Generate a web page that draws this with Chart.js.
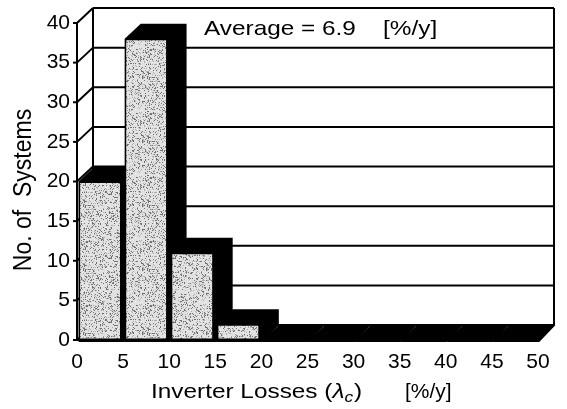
<!DOCTYPE html>
<html>
<head>
<meta charset="utf-8">
<script src="https://cdn.jsdelivr.net/npm/chart.js@4.4.1/dist/chart.umd.min.js"></script>
<style>
  html, body { margin: 0; padding: 0; background: #fff; }
  #wrap { width: 567px; height: 409px; }
</style>
</head>
<body>
<div id="wrap"><canvas id="chart" width="567" height="409"></canvas></div>
<script>
// histogram of inverter losses, bins of 5 %/y
const binLabels = ["0-5", "5-10", "10-15", "15-20", "20-25", "25-30", "30-35", "35-40", "40-45", "45-50"];
const systemCounts = [20, 38, 11, 2, 0, 0, 0, 0, 0, 0];
const lossTicks = [0, 5, 10, 15, 20, 25, 30, 35, 40, 45, 50];
const countTicks = [0, 5, 10, 15, 20, 25, 30, 35, 40];
const averageLabel = "Average = 6.9";
const unitLabel = "[%/y]";

const DEPTH_X = 16;
const DEPTH_Y = -15;
const STRETCH = 1.16; // the scanned text is wider than plain Arial
const FONT = "'Liberation Sans', Arial, sans-serif";

// grey stipple like the scanned bars
function stipple() {
  const c = document.createElement("canvas");
  c.width = 64; c.height = 64;
  const g = c.getContext("2d");
  g.fillStyle = "#e2e2e2";
  g.fillRect(0, 0, 64, 64);
  for (let y = 0; y < 64; y++) {
    for (let x = 0; x < 64; x++) {
      let h = Math.imul(x, 374761393) + Math.imul(y, 668265263);
      h = Math.imul(h ^ (h >>> 13), 1274126177);
      h = (h ^ (h >>> 16)) >>> 0;
      const r = h % 100;
      if (r < 14) { g.fillStyle = "#707070"; g.fillRect(x, y, 1, 1); }
      else if (r < 24) { g.fillStyle = "#acacac"; g.fillRect(x, y, 1, 1); }
    }
  }
  return g.createPattern(c, "repeat");
}

function line(ctx, x1, y1, x2, y2) {
  ctx.beginPath();
  ctx.moveTo(x1, y1);
  ctx.lineTo(x2, y2);
  ctx.stroke();
}

// text widened horizontally, left edge at x
function wideText(ctx, text, x, y, stretch = STRETCH) {
  ctx.save();
  ctx.translate(x, y);
  ctx.scale(stretch, 1);
  ctx.fillText(text, 0, 0);
  const w = ctx.measureText(text).width * stretch;
  ctx.restore();
  return w;
}

const boxPlugin = {
  id: "box3d",
  beforeDatasetsDraw(chart) {
    const { ctx, chartArea: a, scales } = chart;
    const ys = scales.y;
    ctx.save();
    ctx.strokeStyle = "#000";
    ctx.lineWidth = 2;
    countTicks.forEach((v) => {
      const py = ys.getPixelForValue(v);
      line(ctx, a.left + DEPTH_X, py + DEPTH_Y, a.right + DEPTH_X, py + DEPTH_Y);
      line(ctx, a.left, py, a.left + DEPTH_X, py + DEPTH_Y);
      line(ctx, a.left - 4, py, a.left, py);
    });
    line(ctx, a.left, a.top, a.left, a.bottom);
    line(ctx, a.left + DEPTH_X, a.top + DEPTH_Y, a.left + DEPTH_X, a.bottom + DEPTH_Y);
    line(ctx, a.right + DEPTH_X, a.top + DEPTH_Y, a.right + DEPTH_X, a.bottom + DEPTH_Y);
    line(ctx, a.right, a.bottom, a.right + DEPTH_X, a.bottom + DEPTH_Y);

    // black tops and sides of the bars
    ctx.fillStyle = "#000";
    chart.getDatasetMeta(0).data.forEach((bar) => {
      const { x, y, base, width } = bar.getProps(["x", "y", "base", "width"], true);
      const xl = x - width / 2, xr = x + width / 2;
      ctx.beginPath();
      ctx.moveTo(xl, y);
      ctx.lineTo(xl + DEPTH_X, y + DEPTH_Y);
      ctx.lineTo(xr + DEPTH_X + 3, y + DEPTH_Y);
      ctx.lineTo(xr + DEPTH_X + 3, base + DEPTH_Y);
      ctx.lineTo(xr + 3, base + 2);
      ctx.lineTo(xl, base + 2);
      ctx.closePath();
      ctx.fill();
    });
    ctx.restore();
  },
  afterDatasetsDraw(chart) {
    const { ctx, chartArea: a } = chart;
    ctx.save();
    ctx.strokeStyle = "#000";
    ctx.lineWidth = 2;
    line(ctx, a.left, a.bottom, a.right, a.bottom);
    ctx.restore();
  },
  afterDraw(chart) {
    const { ctx } = chart;
    ctx.save();
    ctx.fillStyle = "#000";
    ctx.textBaseline = "alphabetic";
    ctx.textAlign = "left";

    ctx.font = `21px ${FONT}`;
    wideText(ctx, averageLabel, 204, 35);
    wideText(ctx, unitLabel, 383, 35);

    // x title with italic lambda_c
    let x = 151;
    const by = 398;
    ctx.font = `21px ${FONT}`;
    x += wideText(ctx, "Inverter Losses (", x, by);
    ctx.font = `italic 21px ${FONT}`;
    x += wideText(ctx, "\u03bb", x, by);
    ctx.font = `italic 15px ${FONT}`;
    x += wideText(ctx, "c", x, by + 4) + 1;
    ctx.font = `21px ${FONT}`;
    wideText(ctx, ")", x, by);
    wideText(ctx, unitLabel, 405, by, 1.0);

    ctx.translate(31, 190);
    ctx.rotate(-Math.PI / 2);
    ctx.scale(1, STRETCH);
    ctx.textAlign = "center";
    ctx.font = `23px ${FONT}`;
    ctx.fillText("No. of  Systems", 0, 0);
    ctx.restore();
  },
};

new Chart(document.getElementById("chart"), {
  type: "bar",
  data: {
    labels: binLabels,
    datasets: [{
      data: systemCounts,
      backgroundColor: stipple(),
      borderColor: "#000",
      borderWidth: 1.5,
      borderSkipped: false,
      categoryPercentage: 1.0,
      barPercentage: 0.93,
    }],
  },
  options: {
    responsive: false,
    animation: false,
    layout: { padding: { left: 0, top: 23, right: 29, bottom: 0 } },
    plugins: { legend: { display: false }, tooltip: { enabled: false } },
    scales: {
      x: { type: "category", display: false, offset: true },
      loss: {
        type: "linear",
        position: "bottom",
        offset: false,
        min: 0,
        max: 50,
        afterBuildTicks: (s) => { s.ticks = lossTicks.map((v) => ({ value: v })); },
        afterFit: (s) => { s.height = 69; },
        grid: { display: false, drawTicks: false, offset: false },
        border: { display: false },
        ticks: { padding: 10, color: "#000", autoSkip: false, maxRotation: 0, font: { family: FONT, size: 21 } },
      },
      y: {
        min: 0,
        max: 40,
        afterBuildTicks: (s) => { s.ticks = countTicks.map((v) => ({ value: v })); },
        afterFit: (s) => { s.width = 77; },
        grid: { display: false, drawTicks: false },
        border: { display: false },
        ticks: { padding: 7, color: "#000", font: { family: FONT, size: 21 } },
      },
    },
  },
  plugins: [boxPlugin],
});
</script>
</body>
</html>
